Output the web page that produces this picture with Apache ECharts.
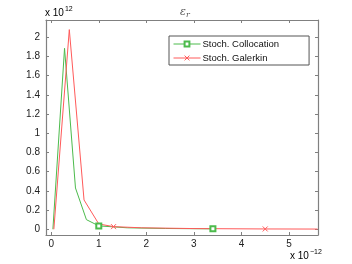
<!DOCTYPE html>
<html><head><meta charset="utf-8">
<script src="https://cdn.jsdelivr.net/npm/echarts@6/dist/echarts.min.js"></script>
<style>html,body{margin:0;padding:0;background:#fff}#c{width:352px;height:264px}</style>
</head><body><div id="c"></div>
<script>
const seriesNames = ['Stoch. Collocation', 'Stoch. Galerkin'];
const collocX = [0.035, 0.28, 0.51, 0.74, 1.0, 1.6, 2.4, 3.4];
const collocY = [0, 1.885, 0.43, 0.10, 0.035, 0.015, 0.008, 0.004];
const collocMarkIdx = [4, 7];
const galerkinX = [0.055, 0.38, 0.69, 1.0, 1.31, 1.9, 3.0, 4.5, 5.6];
const galerkinY = [0, 2.08, 0.305, 0.055, 0.027, 0.015, 0.007, 0.003, 0.002];
const galerkinMarkIdx = [4, 7];
const xTicks = [0, 1, 2, 3, 4, 5];
const yTicks = [0, 0.2, 0.4, 0.6, 0.8, 1, 1.2, 1.4, 1.6, 1.8, 2];
const titleText = 'ε';
const titleSub = 'r';

const green = '#4cbb4c', red = '#ff5a5a', frame = '#808080';
const xMark = 'path://M0,0L10,10M10,0L0,10';
function pts(xs, ys, idx) {
  return xs.map((x, i) => idx.includes(i) ? { value: [x, ys[i]] } : { value: [x, ys[i]], symbol: 'none' });
}
const font = 'Liberation Sans, Arial, sans-serif';
function axis(pos, isX, show) {
  const ticks = isX ? xTicks : yTicks;
  return {
    type: 'value', position: pos,
    min: isX ? -0.11 : -0.06, max: isX ? 5.61 : 2.18,
    axisLine: { show: true, onZero: false, lineStyle: { color: frame, width: 1.2 } },
    axisTick: { show: true, inside: true, length: 3, customValues: ticks, lineStyle: { color: frame } },
    axisLabel: show ? { customValues: ticks, fontFamily: font, fontSize: 10, color: '#222', margin: isX ? 4 : 6 } : { show: false },
    splitLine: { show: false }
  };
}
const chart = echarts.init(document.getElementById('c'), null, { renderer: 'canvas' });
chart.setOption({
  animation: false,
  backgroundColor: '#fff',
  title: {
    text: '{i|' + titleText + '}{s|' + titleSub + '}', left: 175, top: 1,
    textStyle: { fontWeight: 'normal', rich: { i: { fontFamily: 'DejaVu Serif', fontStyle: 'italic', fontSize: 11, color: '#555' }, s: { fontFamily: 'DejaVu Serif', fontStyle: 'italic', fontSize: 8, color: '#555', padding: [5, 0, 0, 0] } } }
  },
  grid: { left: 46, right: 34, top: 20, bottom: 29 },
  legend: {
    orient: 'vertical', left: 169, top: 36, itemGap: 4,
    padding: [3, 30, 2, 4], borderColor: '#555', borderWidth: 1, backgroundColor: '#fff',
    itemWidth: 27, itemHeight: 6,
    lineStyle: { width: 1 },
    itemStyle: { borderWidth: 1 },
    textStyle: { fontFamily: font, fontSize: 9.5, color: '#111', padding: [0, 0, 0, -3] },
    data: seriesNames
  },
  xAxis: [axis('bottom', true, true), axis('top', true, false)],
  yAxis: [axis('left', false, true), axis('right', false, false)],
  series: [
    { name: seriesNames[0], type: 'line', data: pts(collocX, collocY, collocMarkIdx),
      symbol: 'emptyRect', symbolSize: 5, showAllSymbol: true,
      lineStyle: { color: green, width: 1 }, itemStyle: { color: green, borderColor: green, borderWidth: 1 } },
    { name: seriesNames[1], type: 'line', data: pts(galerkinX, galerkinY, galerkinMarkIdx),
      symbol: xMark, symbolSize: 5, showAllSymbol: true,
      lineStyle: { color: red, width: 1 }, itemStyle: { color: 'rgba(0,0,0,0)', borderColor: red, borderWidth: 1 } }
  ],
  graphic: [
    { type: 'text', left: 45, top: 6, style: { text: '{a|x 10}{b|12}', rich: { a: { fontFamily: font, fontSize: 10, color: '#222' }, b: { fontFamily: font, fontSize: 7, color: '#222', padding: [0, 0, 8, 1] } } } },
    { type: 'text', left: 290, top: 249, style: { text: '{a|x 10}{b|−12}', rich: { a: { fontFamily: font, fontSize: 10, color: '#222' }, b: { fontFamily: font, fontSize: 7, color: '#222', padding: [0, 0, 8, 1] } } } }
  ]
});
</script></body></html>
